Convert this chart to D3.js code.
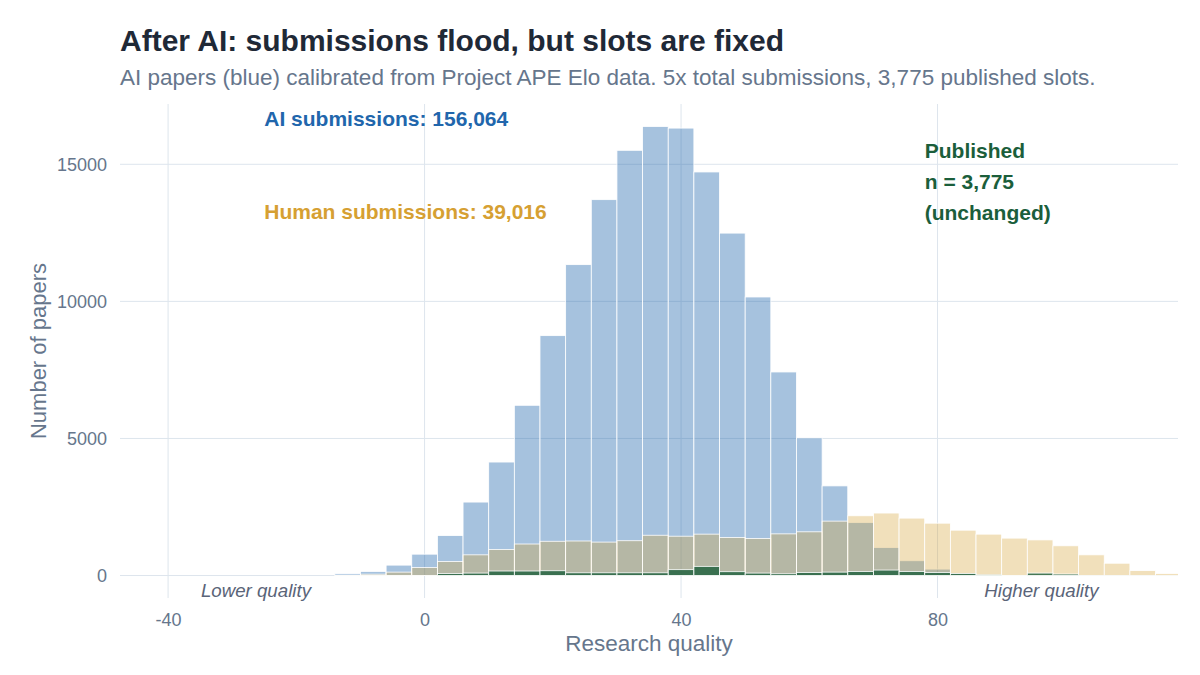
<!DOCTYPE html>
<html>
<head>
<meta charset="utf-8">
<script src="https://cdn.jsdelivr.net/npm/d3@7"></script>
<style>
  body { margin: 0; background: #fff; }
  svg { font-family: "Liberation Sans", Arial, sans-serif; }
</style>
</head>
<body>
<svg id="chart"></svg>
<script>
// histogram bins, width 4, labelled by bin centre
const binCenters = [-36, -32, -28, -24, -20, -16, -12, -8, -4, 0, 4, 8, 12, 16, 20, 24, 28, 32, 36, 40,
    44, 48, 52, 56, 60, 64, 68, 72, 76, 80, 84, 88, 92, 96, 100, 104, 108, 112, 116];

const aiCounts = [0, 0, 0, 0, 0, 0, 70, 150, 380, 780, 1460, 2680, 4140, 6210, 8750, 11340, 13710, 15510, 16380, 16320,
    14720, 12490, 10160, 7425, 5020, 3270, 1930, 1020, 540, 235, 90, 30, 10, 0, 0, 0, 0, 0, 0];

const humanCounts = [0, 0, 0, 0, 0, 0, 15, 50, 125, 290, 510, 755, 950, 1150, 1250, 1260, 1220, 1270, 1470, 1435,
    1510, 1390, 1350, 1520, 1595, 1985, 2180, 2280, 2095, 1910, 1655, 1510, 1365, 1300, 1085, 755, 450, 180, 75];

const publishedCounts = [0, 0, 0, 0, 0, 0, 0, 0, 0, 0, 75, 90, 165, 165, 175, 100, 100, 100, 100, 215,
    335, 140, 90, 65, 110, 125, 150, 200, 150, 110, 75, 25, 0, 90, 55, 0, 0, 0, 0];

const xTicks = [-40, 0, 40, 80];
const yTicks = [0, 5000, 10000, 15000];
const xLimits = [-40, 110];

const width = 1200, height = 675;
const margin = { top: 104, right: 22, bottom: 77, left: 120 };
const binWidth = 4;

const svg = d3.select("#chart")
    .attr("width", width)
    .attr("height", height);

// ggplot-like 5% expansion on both axes
const xPad = (xLimits[1] - xLimits[0]) * 0.05;
const xScale = d3.scaleLinear()
    .domain([xLimits[0] - xPad, xLimits[1] + xPad])
    .range([margin.left, width - margin.right]);

const yMax = d3.max(aiCounts);
const yScale = d3.scaleLinear()
    .domain([-yMax * 0.05, yMax * 1.05])
    .range([height - margin.bottom, margin.top]);

svg.append("defs").append("clipPath")
    .attr("id", "panel")
    .append("rect")
    .attr("x", margin.left)
    .attr("y", margin.top)
    .attr("width", width - margin.left - margin.right)
    .attr("height", height - margin.top - margin.bottom);

// grid
const grid = svg.append("g").attr("stroke", "#dde5ed").attr("stroke-width", 1);
grid.selectAll(".gx")
    .data(xTicks)
    .join("line")
    .attr("x1", d => xScale(d)).attr("x2", d => xScale(d))
    .attr("y1", margin.top).attr("y2", height - margin.bottom);
grid.selectAll(".gy")
    .data(yTicks)
    .join("line")
    .attr("y1", d => yScale(d)).attr("y2", d => yScale(d))
    .attr("x1", margin.left).attr("x2", width - margin.right);

// three overlapping histograms: AI, then human, then published
const layers = [
    { counts: aiCounts, fill: "#2166ac", opacity: 0.4 },
    { counts: humanCounts, fill: "#d6a032", opacity: 0.33 },
    { counts: publishedCounts, fill: "#1b5e3b", opacity: 0.8 }
];

const bars = svg.append("g").attr("clip-path", "url(#panel)");
layers.forEach(layer => {
    bars.append("g")
        .selectAll("rect")
        .data(binCenters.map((c, i) => ({ c, n: layer.counts[i] })))
        .join("rect")
        .attr("x", d => xScale(d.c - binWidth / 2))
        .attr("width", d => xScale(d.c + binWidth / 2) - xScale(d.c - binWidth / 2))
        .attr("y", d => yScale(d.n))
        .attr("height", d => yScale(0) - yScale(d.n))
        .attr("fill", layer.fill)
        .attr("fill-opacity", layer.opacity)
        .attr("stroke", "#fff")
        .attr("stroke-width", 0.8);
});

// axes
const axisColor = "#66768c";
const xAxis = svg.append("g")
    .attr("transform", `translate(0, ${height - margin.bottom})`)
    .call(d3.axisBottom(xScale).tickValues(xTicks).tickSize(0).tickPadding(15).tickFormat(d => String(d)));
const yAxis = svg.append("g")
    .attr("transform", `translate(${margin.left}, 0)`)
    .call(d3.axisLeft(yScale).tickValues(yTicks).tickSize(0).tickPadding(13).tickFormat(d => String(d)));
[xAxis, yAxis].forEach(a => {
    a.select(".domain").remove();
    a.selectAll("text")
        .attr("fill", axisColor)
        .style("font-size", "18px")
        .style("font-family", "'Liberation Sans', Arial, sans-serif");
});

svg.append("text")
    .attr("x", (margin.left + width - margin.right) / 2)
    .attr("y", 651)
    .attr("text-anchor", "middle")
    .attr("fill", axisColor)
    .style("font-size", "22.5px")
    .text("Research quality");

svg.append("text")
    .attr("transform", `translate(46, ${(margin.top + height - margin.bottom) / 2}) rotate(-90)`)
    .attr("text-anchor", "middle")
    .attr("fill", axisColor)
    .style("font-size", "22px")
    .text("Number of papers");

// title + subtitle
svg.append("text")
    .attr("x", 120).attr("y", 51)
    .attr("fill", "#1f2937")
    .style("font-size", "30px")
    .style("font-weight", "bold")
    .text("After AI: submissions flood, but slots are fixed");

svg.append("text")
    .attr("x", 120).attr("y", 85)
    .attr("fill", "#66768c")
    .style("font-size", "22.5px")
    .text("AI papers (blue) calibrated from Project APE Elo data. 5x total submissions, 3,775 published slots.");

// annotations
svg.append("text")
    .attr("x", xScale(-25)).attr("y", yScale(16650))
    .attr("dy", "0.35em")
    .attr("fill", "#2166ac")
    .style("font-size", "21px").style("font-weight", "bold")
    .text("AI submissions: 156,064");

svg.append("text")
    .attr("x", xScale(-25)).attr("y", yScale(13270))
    .attr("dy", "0.35em")
    .attr("fill", "#d6a032")
    .style("font-size", "21px").style("font-weight", "bold")
    .text("Human submissions: 39,016");

const pub = svg.append("text")
    .attr("y", yScale(15490))
    .attr("fill", "#1b5e3b")
    .style("font-size", "21px").style("font-weight", "bold");
["Published", "n = 3,775", "(unchanged)"].forEach((line, i) => {
    pub.append("tspan")
        .attr("x", xScale(78))
        .attr("dy", i === 0 ? "0.35em" : "1.48em")
        .text(line);
});

svg.append("text")
    .attr("x", xScale(-26.3)).attr("y", yScale(0) + 21)
    .attr("text-anchor", "middle")
    .attr("fill", "#5a6478")
    .style("font-size", "18.7px").style("font-style", "italic")
    .text("Lower quality");

svg.append("text")
    .attr("x", xScale(96.2)).attr("y", yScale(0) + 21)
    .attr("text-anchor", "middle")
    .attr("fill", "#5a6478")
    .style("font-size", "18.7px").style("font-style", "italic")
    .text("Higher quality");
</script>
</body>
</html>
